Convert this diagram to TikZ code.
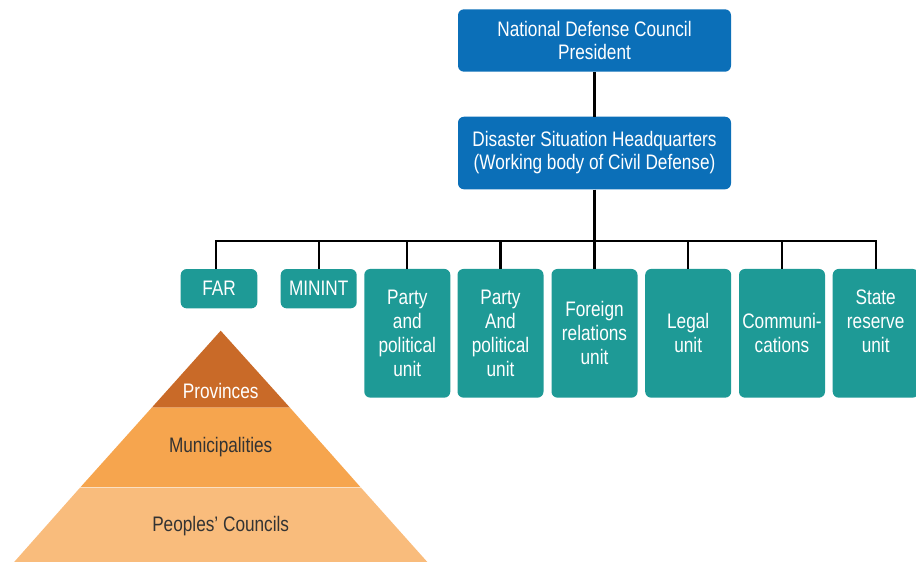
\documentclass[tikz,border=0pt]{standalone}
\usepackage{fontspec}
\setmainfont[FakeStretch=0.82]{Liberation Sans}
\definecolor{topblue}{HTML}{0B6FB8}
\definecolor{unitteal}{HTML}{1E9A96}
\definecolor{provc}{HTML}{C96A28}
\definecolor{munic}{HTML}{F6A54E}
\definecolor{peopc}{HTML}{F9BC7C}
\definecolor{darktext}{HTML}{333333}
\tikzset{
  topbox/.style={fill=topblue, rounded corners=6pt, text=white, align=center,
    minimum width=273pt, inner sep=0pt, font=\fontsize{21}{23}\selectfont},
  smallunit/.style={fill=unitteal, rounded corners=6pt, text=white, align=center,
    minimum height=39.3pt, inner sep=0pt, font=\fontsize{21}{24}\selectfont},
  unitbox/.style={fill=unitteal, rounded corners=6pt, text=white, align=center,
    minimum width=86pt, minimum height=128.7pt, inner sep=0pt, font=\fontsize{21}{24}\selectfont},
  conn/.style={draw=black, line width=2.3pt},
  pyrtext/.style={font=\fontsize{21}{24}\selectfont, inner sep=0pt}
}
\begin{document}
\begin{tikzpicture}[x=1pt,y=-1pt]
\useasboundingbox (0,0) rectangle (916,562);
% pyramid
\coordinate (apex) at (220.7,330.7);
\fill[provc] (apex) -- (290,407.7) -- (151.7,407.7) -- cycle;
\fill[munic] (151.7,407.7) -- (290,407.7) -- (361,487.7) -- (80,487.7) -- cycle;
\fill[peopc] (80,487.7) -- (361,487.7) -- (430,565) -- (11.5,565) -- cycle;
\draw[white, line width=0.6pt, opacity=0.5] (80,487.7) -- (361,487.7);
\node[pyrtext, text=white] (prov) at (220.7,391) {Provinces};
\node[pyrtext, text=darktext] (mun) at (220.7,447) {Municipalities};
\node[pyrtext, text=darktext] (peop) at (220.7,526) {Peoples’ Councils};
% top boxes
\node[topbox, minimum height=62.4pt] (ndc) at (594.5,40.5) {National Defense Council\\President};
\node[topbox, minimum height=72.6pt] (hq) at (594.5,153) {Disaster Situation Headquarters\\(Working body of Civil Defense)};
% units
\node[smallunit, minimum width=76.6pt] (far) at (219,288.7) {FAR};
\node[smallunit, minimum width=76pt] (minint) at (318.7,288.7) {MININT};
\node[unitbox] (u1) at (407.3,333.3) {Party\\and\\political\\unit};
\node[unitbox] (u2) at (500.5,333.3) {Party\\And\\political\\unit};
\node[unitbox] (u3) at (594.5,333.3) {Foreign\\relations\\unit};
\node[unitbox] (u4) at (688.2,333.3) {Legal\\unit};
\node[unitbox] (u5) at (782,333.3) {Communi-\\cations};
\node[unitbox] (u6) at (875.7,333.3) {State\\reserve\\unit\\\mbox{}};
% connectors
\coordinate (bus) at (0,241);
\draw[conn] (ndc.south) -- (hq.north);
\draw[conn] (hq.south) -- (hq.south |- bus) -| ([xshift=-3pt]far.north);
\foreach \c in {minint,u1,u2,u3,u4,u5,u6}{
  \draw[conn] (hq.south |- bus) -| (\c.north);
}
\end{tikzpicture}
\end{document}
